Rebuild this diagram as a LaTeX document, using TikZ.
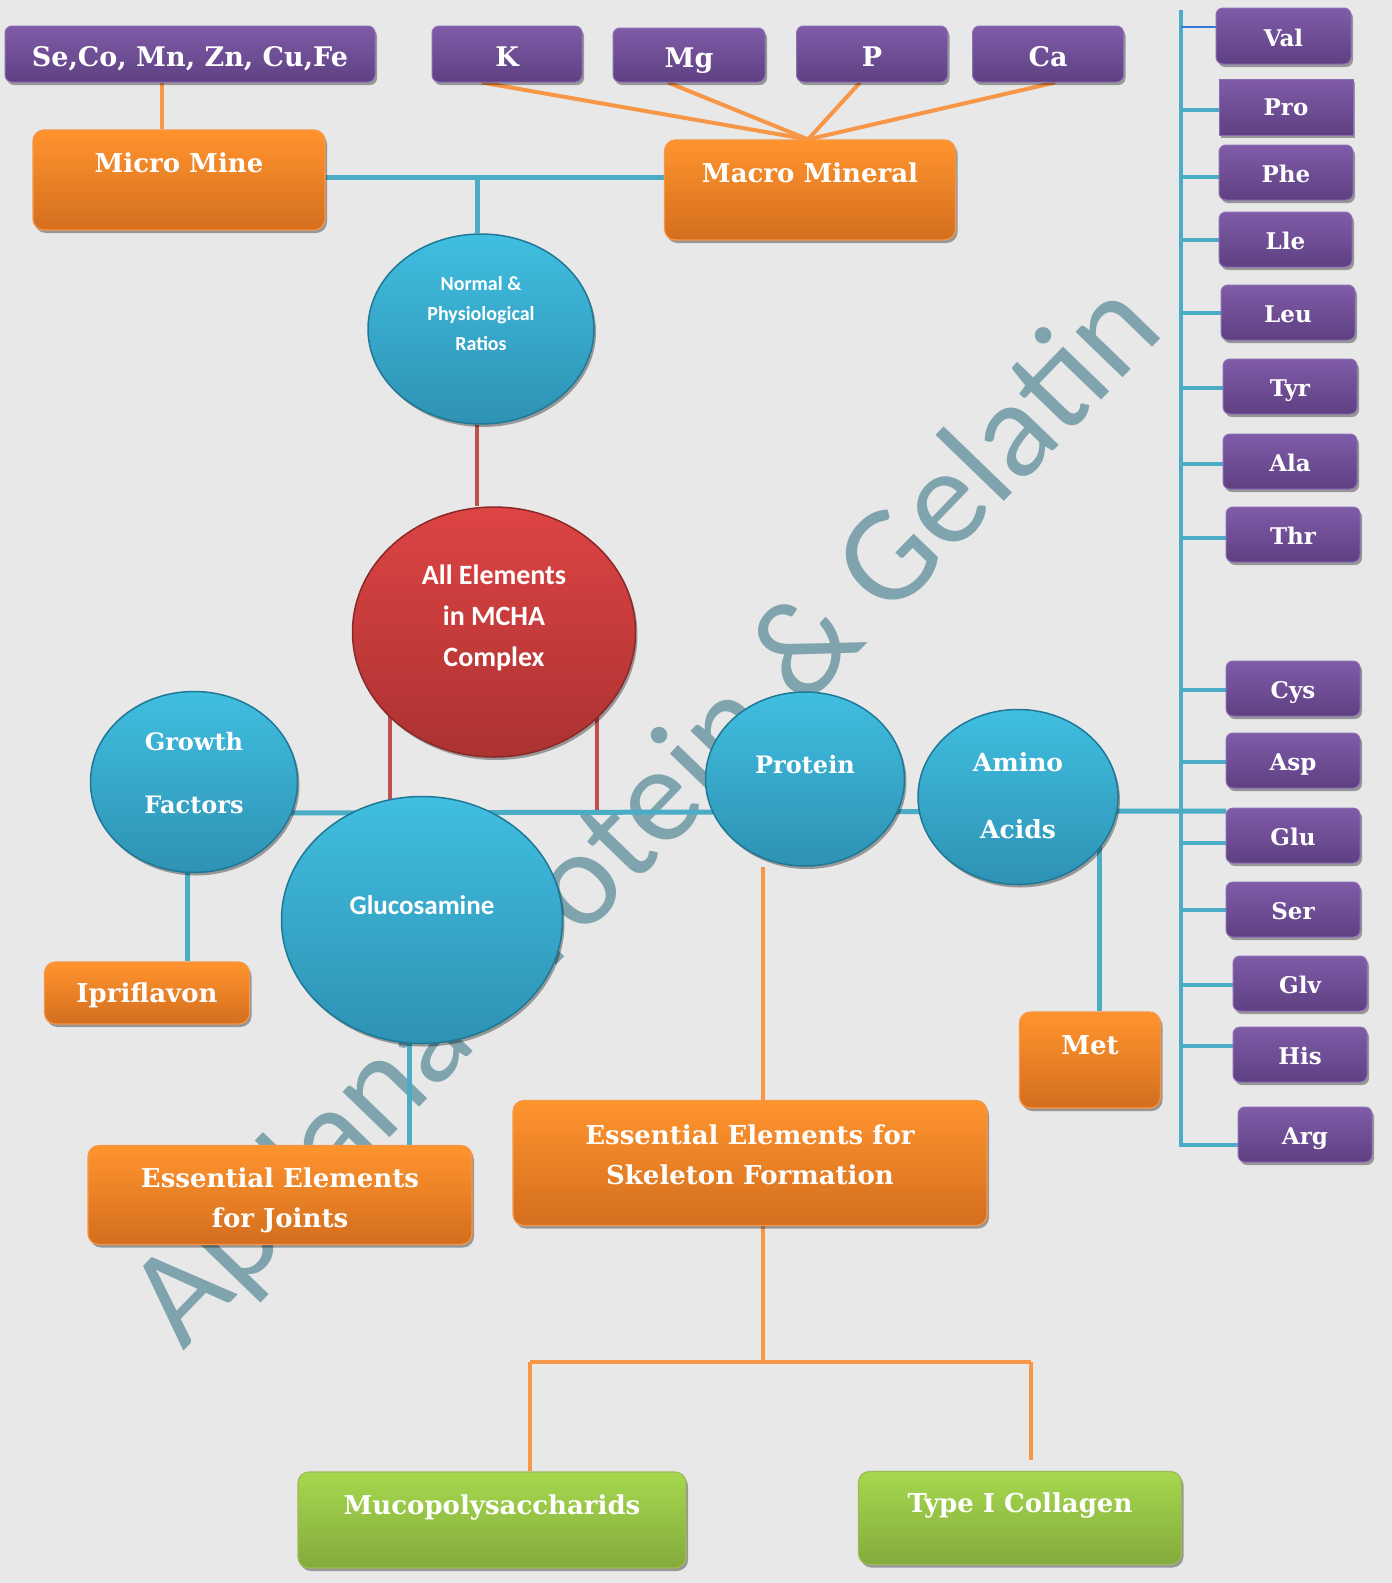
\documentclass[tikz,border=0pt]{standalone}
\usepackage{fontspec}
\setmainfont{DejaVu Serif}
\newfontfamily\carl{Carlito}
\usetikzlibrary{shapes.geometric,shadows}
\definecolor{bgc}{RGB}{232,232,232}
\definecolor{purpT}{RGB}{128,92,168}
\definecolor{purpB}{RGB}{94,64,130}
\definecolor{purpE}{RGB}{140,110,180}
\definecolor{orT}{RGB}{255,148,46}
\definecolor{orB}{RGB}{212,110,30}
\definecolor{orE}{RGB}{247,150,70}
\definecolor{grT}{RGB}{166,216,78}
\definecolor{grB}{RGB}{132,170,60}
\definecolor{grE}{RGB}{155,187,89}
\definecolor{blT}{RGB}{64,190,224}
\definecolor{blB}{RGB}{46,146,180}
\definecolor{blE}{RGB}{30,120,150}
\definecolor{rdT}{RGB}{222,68,68}
\definecolor{rdB}{RGB}{172,50,50}
\definecolor{rdE}{RGB}{140,40,40}
\definecolor{cBl}{RGB}{75,172,198}
\definecolor{cOl}{RGB}{247,150,70}
\definecolor{cRl}{RGB}{192,80,77}
\definecolor{wmc}{RGB}{128,164,174}
\pgfdeclarelayer{bg}\pgfdeclarelayer{wm}\pgfdeclarelayer{lines}
\pgfsetlayers{bg,wm,lines,main}
\begin{document}
\begin{tikzpicture}[x=1pt,y=-1pt,
  shad/.style={drop shadow={shadow xshift=2pt,shadow yshift=-3pt,opacity=0.35,fill=black}},
  sz/.style 2 args={minimum width=#1pt,minimum height=#2pt},
  pbox/.style={rectangle,rounded corners=7pt,top color=purpT,bottom color=purpB,draw=purpE,line width=1pt,inner sep=0pt,shad},
  obox/.style={rectangle,rounded corners=11pt,top color=orT,bottom color=orB,draw=orE,line width=1.2pt,inner sep=0pt,shad},
  gbox/.style={rectangle,rounded corners=11pt,top color=grT,bottom color=grB,draw=grE,line width=1.2pt,inner sep=0pt,shad},
  bell/.style={ellipse,top color=blT,bottom color=blB,draw=blE,line width=1.5pt,inner sep=0pt,shad},
  rell/.style={ellipse,top color=rdT,bottom color=rdB,draw=rdE,line width=1.5pt,inner sep=0pt,shad},
  st/.style 2 args={text=white,font=\bfseries\fontsize{#1}{#1}\selectfont,text height=#2pt,text depth=0pt,inner sep=0pt},
  ct/.style 2 args={text=white,font=\carl\bfseries\fontsize{#1}{#1}\selectfont,text height=#2pt,text depth=0pt,inner sep=0pt},
  bl/.style={draw=cBl,line width=5pt},
  bt/.style={draw=cBl,line width=4pt},
  ol/.style={draw=cOl,line width=4pt},
  rl/.style={draw=cRl,line width=4pt}
]
\useasboundingbox (0,0) rectangle (1392,1583);
\begin{pgfonlayer}{bg}
\fill[bgc] (0,0) rectangle (1392,1583);
\end{pgfonlayer}
\begin{pgfonlayer}{wm}
\node[rotate=46,anchor=base west,text=wmc,font=\carl\fontsize{137}{137}\selectfont,inner sep=0pt] (wmark) at (183,1352) {Apdana Protein \& Gelatin};
\end{pgfonlayer}

% top purple row
\node[pbox,sz={370}{56}] (se) at (190,54) {};
\node[st={27}{19.7}] (seT) at (190,57) {Se,Co, Mn, Zn, Cu,Fe};
\node[pbox,sz={150}{56}] (k) at (507,54) {};
\node[st={27}{19.7}] (kT) at (507,57) {K};
\node[pbox,sz={152}{54}] (mg) at (689,55) {};
\node[st={27}{19.7}] (mgT) at (689,58) {Mg};
\node[pbox,sz={151}{56}] (p) at (872,54) {};
\node[st={27}{19.7}] (pT) at (872,57) {P};
\node[pbox,sz={151}{56}] (ca) at (1048,54) {};
\node[st={27}{19.7}] (caT) at (1048,57) {Ca};

% orange upper
\node[obox,sz={292}{100}] (micro) at (179,180) {};
\node[st={26}{19}] (microT) at (179,163) {Micro Mine};
\node[obox,sz={291}{100}] (macro) at (810,190) {};
\node[st={26}{19}] (macroT) at (810,173) {Macro Mineral};

% ellipses
\node[bell,sz={226}{190}] (normal) at (481,329) {};
\node[ct={20}{12.9}] (n1) at (481,284) {Normal \&};
\node[ct={20}{12.9}] (n2) at (481,314) {Physiological};
\node[ct={20}{12.9}] (n3) at (481,344) {Ratios};
\node[rell,sz={283}{250}] (mcha) at (494,632) {};
\node[ct={28}{18}] (m1) at (494,575) {All Elements};
\node[ct={28}{18}] (m2) at (494,616) {in MCHA};
\node[ct={28}{18}] (m3) at (494,657) {Complex};
\node[bell,sz={207}{181}] (growth) at (194,782) {};
\node[st={24}{17.5}] (g1) at (194,742) {Growth};
\node[st={24}{17.5}] (g2) at (194,805) {Factors};
\node[bell,sz={281}{247}] (gluc) at (422,920) {};
\node[ct={27}{17.4}] (glT) at (422,906) {Glucosamine};
\node[bell,sz={199}{174}] (protein) at (805,779) {};
\node[st={24}{17.5}] (prT) at (805,765) {Protein};
\node[bell,sz={200}{175}] (amino) at (1018,797) {};
\node[st={25}{18.2}] (a1) at (1018,762) {Amino};
\node[st={25}{18.2}] (a2) at (1018,829) {Acids};

% orange lower
\node[obox,sz={205}{62}] (ipri) at (147,993) {};
\node[st={26}{19}] (ipT) at (147,993) {Ipriflavon};
\node[obox,sz={141}{96}] (met) at (1090,1060) {};
\node[st={26}{19}] (metT) at (1090,1045) {Met};
\node[obox,sz={384}{99}] (joints) at (280,1195) {};
\node[st={26}{19}] (j1) at (280,1178) {Essential Elements};
\node[st={26}{19}] (j2) at (280,1218) {for Joints};
\node[obox,sz={474}{125}] (skel) at (750,1163) {};
\node[st={26}{19}] (s1) at (750,1135) {Essential Elements for};
\node[st={26}{19}] (s2) at (750,1175) {Skeleton Formation};

% green
\node[gbox,sz={388}{96}] (muco) at (492,1520) {};
\node[st={26}{19}] (muT) at (492,1505) {Mucopolysaccharids};
\node[gbox,sz={323}{93}] (coll) at (1020,1518) {};
\node[st={26}{19}] (coT) at (1020,1503) {Type I Collagen};

% right column amino acids
\node[pbox,sz={135}{56}] (val) at (1283.5,36) {};
\node[st={23}{16.8}] (valT) at (1283.5,38) {Val};
\node[pbox,sz={134}{56},rounded corners=0pt] (pro) at (1286,107) {};
\node[st={23}{16.8}] (proT) at (1286,107) {Pro};
\node[pbox,sz={134}{55}] (phe) at (1286,172.5) {};
\node[st={23}{16.8}] (pheT) at (1286,174) {Phe};
\node[pbox,sz={133}{55}] (lle) at (1285.5,239.5) {};
\node[st={23}{16.8}] (lleT) at (1285.5,241) {Lle};
\node[pbox,sz={134}{55}] (leu) at (1288,312.5) {};
\node[st={23}{16.8}] (leuT) at (1288,314) {Leu};
\node[pbox,sz={134}{55}] (tyr) at (1290,386.5) {};
\node[st={23}{16.8}] (tyrT) at (1290,388) {Tyr};
\node[pbox,sz={134}{55}] (ala) at (1290,461.5) {};
\node[st={23}{16.8}] (alaT) at (1290,463) {Ala};
\node[pbox,sz={134}{55}] (thr) at (1293,534.5) {};
\node[st={23}{16.8}] (thrT) at (1293,536) {Thr};
\node[pbox,sz={134}{55}] (cys) at (1293,688.5) {};
\node[st={23}{16.8}] (cysT) at (1293,690) {Cys};
\node[pbox,sz={134}{55}] (asp) at (1293,760.5) {};
\node[st={23}{16.8}] (aspT) at (1293,762) {Asp};
\node[pbox,sz={134}{55}] (glu) at (1293,835.5) {};
\node[st={23}{16.8}] (gluT) at (1293,837) {Glu};
\node[pbox,sz={134}{55}] (ser) at (1293,909.5) {};
\node[st={23}{16.8}] (serT) at (1293,911) {Ser};
\node[pbox,sz={134}{55}] (glv) at (1300,983.5) {};
\node[st={23}{16.8}] (glvT) at (1300,985) {Glv};
\node[pbox,sz={134}{55}] (his) at (1300,1054.5) {};
\node[st={23}{16.8}] (hisT) at (1300,1056) {His};
\node[pbox,sz={134}{55}] (arg) at (1305,1134.5) {};
\node[st={23}{16.8}] (argT) at (1305,1136) {Arg};

% coordinates
\coordinate (tj) at (477,177);
\coordinate (hL) at (250,813);
\coordinate (hR) at (1226,811);
\coordinate (r1a) at (390,700);
\coordinate (r1b) at (390,813);
\coordinate (r2a) at (597,700);
\coordinate (r2b) at (597,813);
\coordinate (spT) at (1181,10);
\coordinate (spB) at (1181,1147);
\coordinate (tr) at (763,1362);
\coordinate (trL) at (530,1362);
\coordinate (trR) at (1031,1362);
\coordinate (trRe) at (1031,1460);

\begin{pgfonlayer}{lines}
\draw[ol] ([xshift=-28]se.south) -- ([xshift=-17]micro.north);
\draw[ol] ([xshift=-25]k.south) -- ([xshift=-2]macro.north);
\draw[ol] ([xshift=-21]mg.south) -- ([xshift=-2]macro.north);
\draw[ol] ([xshift=-12]p.south) -- ([xshift=-2]macro.north);
\draw[ol] ([xshift=7]ca.south) -- ([xshift=-2]macro.north);
\draw[bl] ([yshift=3]micro.east) -- ([yshift=13]macro.west);
\draw[bl] (tj) -- ([xshift=-4]normal.north);
\draw[rl] ([xshift=-4]normal.south) -- ([xshift=-17]mcha.north);
\draw[rl] (r1a) -- (r1b);
\draw[rl] (r2a) -- (r2b);
\draw[bl] (hL) -- (hR);
\draw[bl] ([xshift=-7]growth.south) -- ([xshift=40]ipri.north);
\draw[bl] ([xshift=-13]gluc.south) -- ([xshift=129]joints.north);
\draw[ol] ([xshift=-42]protein.south) -- ([xshift=13]skel.north);
\draw[bl] ([xshift=81]amino.center) -- ([xshift=9]met.north);
\draw[ol] ([xshift=13]skel.south) -- (tr);
\draw[ol] (trL) -- (trR);
\draw[ol] (trL) -- ([xshift=38]muco.north);
\draw[ol] (trR) -- (trRe);
\draw[bt] (spT) -- (spB);
\draw[draw=cBl!70!blue,line width=1.2pt] ([yshift=9]val.west) -- ++(-35,0);
\draw[bt] ([yshift=-3]pro.west) -- ++(-38,0);
\draw[bt] ([yshift=-4.5]phe.west) -- ++(-38,0);
\draw[bt] (lle.west) -- ++(-38,0);
\draw[bt] (leu.west) -- ++(-40,0);
\draw[bt] ([yshift=-1.5]tyr.west) -- ++(-42,0);
\draw[bt] ([yshift=-2.5]ala.west) -- ++(-42,0);
\draw[bt] ([yshift=-3.5]thr.west) -- ++(-45,0);
\draw[bt] ([yshift=-1.5]cys.west) -- ++(-45,0);
\draw[bt] ([yshift=-1.5]asp.west) -- ++(-45,0);
\draw[bt] ([yshift=-7.5]glu.west) -- ++(-45,0);
\draw[bt] (ser.west) -- ++(-45,0);
\draw[bt] ([yshift=-1.5]glv.west) -- ++(-52,0);
\draw[bt] ([yshift=8.5]his.west) -- ++(-52,0);
\draw[bt] ([yshift=-10.5]arg.west) -- ++(-57,0);
\end{pgfonlayer}
\end{tikzpicture}
\end{document}
